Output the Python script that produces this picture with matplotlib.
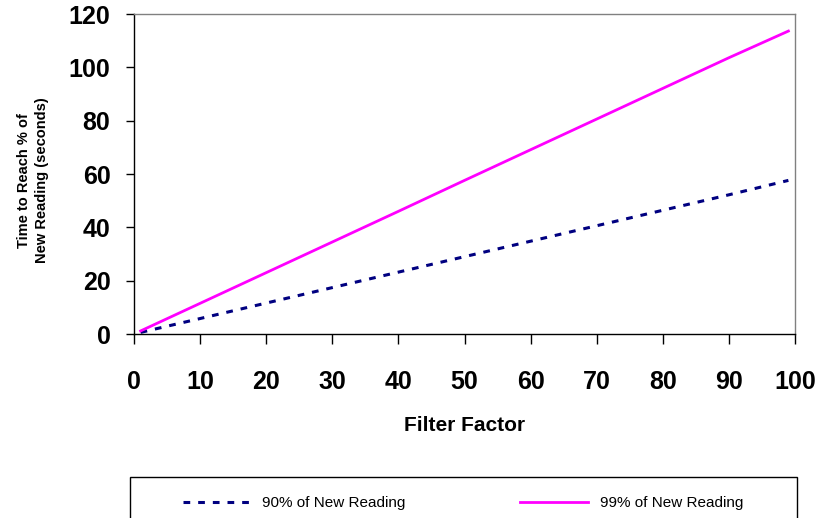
import matplotlib
matplotlib.use('Agg')
import matplotlib.pyplot as plt
from matplotlib.patches import Rectangle

plt.rcParams['font.family'] = ['Liberation Sans', 'DejaVu Sans']

# values
filter_factor = [1, 10, 20, 30, 40, 50, 60, 70, 80, 90, 99]
time_90 = [0.6, 5.8, 11.6, 17.4, 23.2, 29.0, 34.8, 40.6, 46.4, 52.2, 57.6]
time_99 = [1.15, 11.5, 23.0, 34.5, 46.0, 57.6, 69.1, 80.6, 92.1, 103.6, 113.6]
labels = ['90% of New Reading', '99% of New Reading']

W, H = 825, 518
fig = plt.figure(figsize=(W / 100, H / 100), dpi=100)
ax = fig.add_axes([134 / W, 1 - 334 / H, (795 - 134) / W, (334 - 14) / H])

l90, = ax.plot(filter_factor, time_90, color='#000080', linewidth=2.2,
               linestyle=(0, (2.2, 2.6)), solid_capstyle='butt', dash_capstyle='butt')
l99, = ax.plot(filter_factor, time_99, color='#FF00FF', linewidth=2.0)

ax.set_xlim(0, 100)
ax.set_ylim(0, 120)
ax.set_xticks(range(0, 101, 10))
ax.set_yticks(range(0, 121, 20))
ax.tick_params(axis='x', direction='out', length=7, width=1, pad=19, labelsize=18)
ax.tick_params(axis='y', direction='out', length=6, width=1, pad=11, labelsize=18)
for lab in ax.get_xticklabels() + ax.get_yticklabels():
    lab.set_fontweight('bold')

for side in ['left', 'bottom']:
    ax.spines[side].set_color('black')
    ax.spines[side].set_linewidth(1)
for side in ['top', 'right']:
    ax.spines[side].set_color('#808080')
    ax.spines[side].set_linewidth(1)

ax.set_xlabel('Filter Factor', fontsize=15, fontweight='bold')
ax.xaxis.set_label_coords(0.5, (334 - 416) / 320)
ax.set_ylabel('Time to Reach % of\nNew Reading (seconds)', fontsize=10.5,
              fontweight='bold', linespacing=1.35)
ax.yaxis.set_label_coords((49 - 134) / 661, 0.48)

# legend box runs past the bottom edge of the picture
box = Rectangle((130 / W, -0.05), (797 - 130) / W, 0.05 + (1 - 477 / H),
                transform=fig.transFigure, facecolor='white', edgecolor='black',
                linewidth=1, clip_on=False)
fig.patches.append(box)

fig.legend([l90, l99], labels, loc='center left',
           bbox_to_anchor=(183 / W, 1 - 503 / H), ncol=2, frameon=False,
           fontsize=11, handlelength=4.4, handletextpad=0.8, columnspacing=7.5,
           borderpad=0, borderaxespad=0)

fig.savefig('out.png', dpi=100)
